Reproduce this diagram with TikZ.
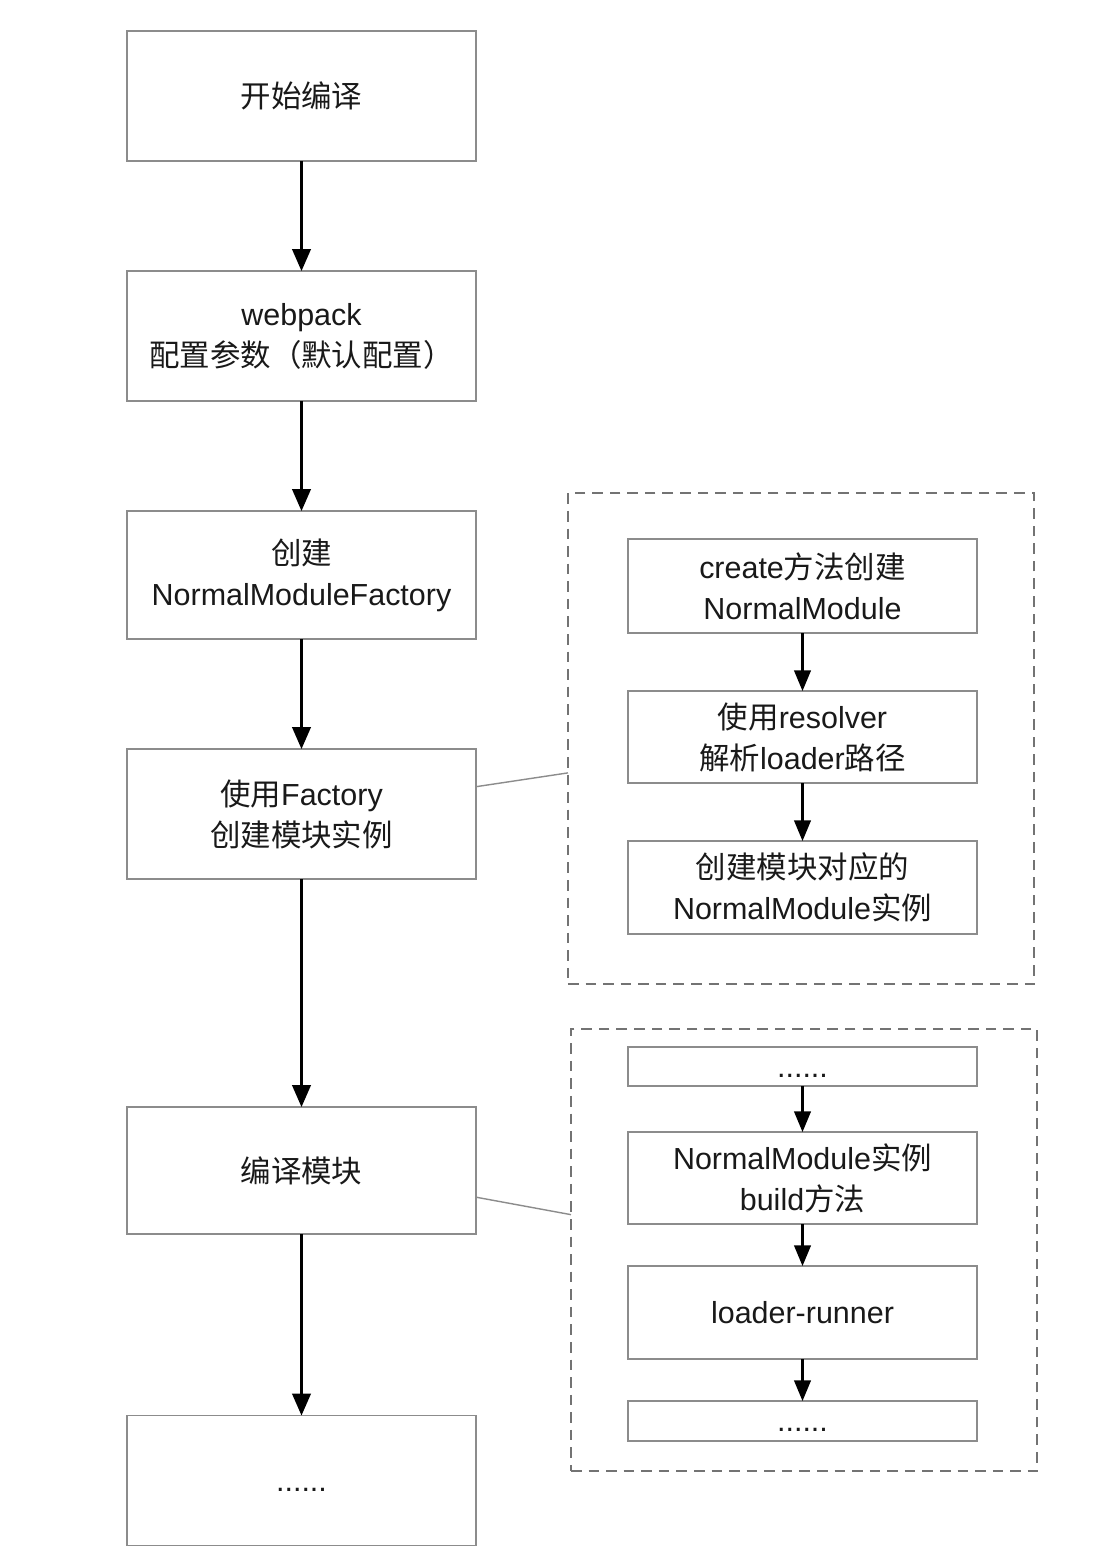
\documentclass[tikz,border=0pt]{standalone}
\usepackage{fontspec}
\setmainfont{Liberation Sans}
\newfontfamily\cjk{Noto Sans CJK SC}
\newcommand{\zh}[1]{{\cjk #1}}
\newcommand{\lowdots}{\raisebox{-9pt}[0pt][0pt]{......}}
\usetikzlibrary{arrows.meta,calc}
\begin{document}
\begin{tikzpicture}[
            x=0.03cm, y=-0.03cm,
            step box/.style={rectangle, draw=black!45, line width=1.6pt, fill=white, minimum width=10.47cm, minimum height=3.9cm, inner sep=0pt, outer sep=0pt, align=center, font=\fontsize{26}{35}\selectfont, text=black!90},
            sub box/.style={step box, minimum height=2.79cm},
            dot box/.style={step box, minimum height=1.17cm},
            group/.style={rectangle, draw=black!55, line width=1.3pt, dash pattern=on 9pt off 6pt, minimum width=13.98cm, inner sep=0pt, outer sep=0pt},
            flow/.style={-{Triangle[length=0.66cm, width=0.56cm]}, line width=1.8pt, black},
            subflow/.style={-{Triangle[length=0.62cm, width=0.5cm]}, line width=1.8pt, black},
            link/.style={draw=black!45, line width=1.2pt},
        ]
            \useasboundingbox[fill=white] (0,0) rectangle (1114,1558);
            % main column
            \node[step box](start) at (301.5,96) {\zh{开始编译}};
            \node[step box](config) at (301.5,336) {webpack\\\zh{配置参数（默认配置）}};
            \node[step box, minimum height=3.84cm](factory) at (301.5,575) {\zh{创建}\\NormalModuleFactory};
            \node[step box](useFactory) at (301.5,814) {\zh{使用}Factory\\\zh{创建模块实例}};
            \node[step box, minimum height=3.81cm](compile) at (301.5,1170.5) {\zh{编译模块}};
            \node[step box](more) at (301.5,1480.5) {\lowdots};
            \draw[flow] (start) -- (config);
            \draw[flow] (config) -- (factory);
            \draw[flow] (factory) -- (useFactory);
            \draw[flow] (useFactory) -- (compile);
            \draw[flow] (compile) -- (more);
            % detail of the factory step
            \node[group, minimum height=14.73cm](groupA) at (801,738.5) {};
            \node[sub box, minimum height=2.82cm](create) at (802.5,586) {create\zh{方法创建}\\NormalModule};
            \node[sub box, minimum height=2.76cm](resolve) at (802.5,737) {\zh{使用}resolver\\\zh{解析}loader\zh{路径}};
            \node[sub box](instance) at (802.5,887.5) {\zh{创建模块对应的}\\NormalModule\zh{实例}};
            \draw[subflow] (create) -- (resolve);
            \draw[subflow] (resolve) -- (instance);
            \draw[link] ($(useFactory.north east)!0.29!(useFactory.south east)$) -- ($(groupA.north west)!0.57!(groupA.south west)$);
            % detail of the compile step
            \node[group, minimum height=13.26cm](groupB) at (804,1250) {};
            \node[dot box](before) at (802.5,1066.5) {\lowdots};
            \node[sub box, minimum height=2.76cm](build) at (802.5,1178) {NormalModule\zh{实例}\\build\zh{方法}};
            \node[sub box](runner) at (802.5,1312.5) {loader-runner};
            \node[dot box, minimum height=1.2cm](after) at (802.5,1421) {\lowdots};
            \draw[subflow] (before) -- (build);
            \draw[subflow] (build) -- (runner);
            \draw[subflow] (runner) -- (after);
            \draw[link] ($(compile.north east)!0.71!(compile.south east)$) -- ($(groupB.north west)!0.42!(groupB.south west)$);
        \end{tikzpicture}
\end{document}
